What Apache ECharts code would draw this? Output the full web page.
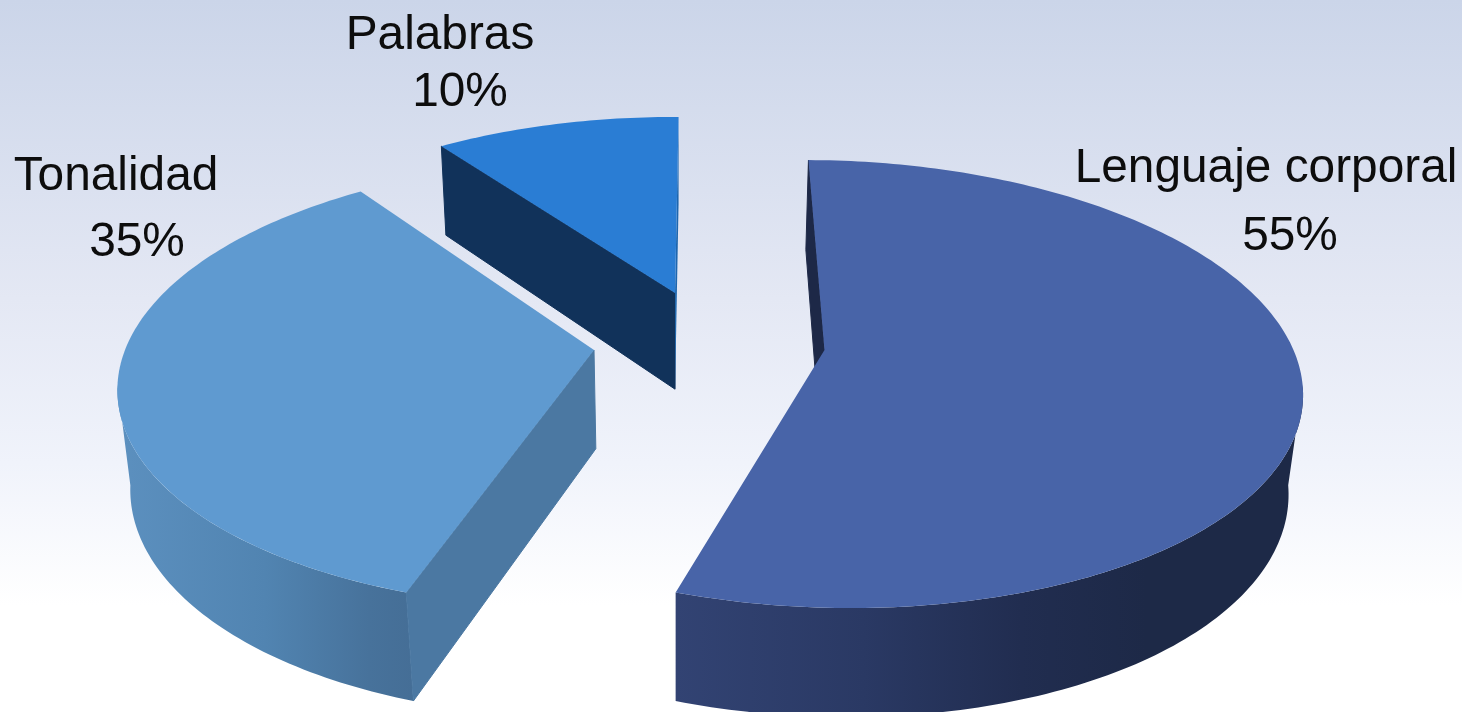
<!DOCTYPE html>
<html lang="es">
<head>
<meta charset="utf-8">
<title>Comunicación</title>
<style>
  html, body { margin: 0; padding: 0; width: 100%; height: 100%; overflow: hidden; background: #fff; }
  #chart { width: 1462px; height: 712px; }
</style>
<script src="https://cdn.jsdelivr.net/npm/echarts@6/dist/echarts.min.js"></script>
</head>
<body>
<div id="chart"></div>
<script>
// Chart data
const categories = ['Lenguaje corporal', 'Tonalidad', 'Palabras'];
const percentages = [55, 35, 10];

// Slice appearance
const topColors = ['#4864A8', '#5F9AD0', '#2A7DD4'];
const startEdgeColors = ['#1D2847', '#4B78A2', '#11325A'];
const endEdgeColors = [null, null, '#1E66AE'];
const wallStops = [
  [[0, '#324373'], [0.3, '#2A3964'], [0.55, '#212D50'], [0.75, '#1D2947'], [1, '#1D2947']],
  [[0, '#5C90BF'], [0.5, '#5184B1'], [0.85, '#47729B'], [1, '#456E96']],
  null
];

// How far each slice is pulled out of the pie, in plane units
const explodeX = [148.5, -82, -1];
const explodeY = [0, 0, -0.271];

// Label placement: [name x, name y, percent x, percent y]
const labelSpots = [
  [1266, 169, 1290, 237],
  [116, 177, 137, 243],
  [440, 36, 460, 93]
];

// Camera model for the tilted pie
const camera = { x0: 676, y0: 350, radiusX: 469, radiusY: 218.8, persp: 0.152, sink: 0.023, drop: 101 };
const startAngle = 0.5;
// Rim angles between the two silhouette points, where the outer wall faces the viewer
const wallWindow = [99, 261];
const labelFont = '47.8px "Liberation Sans", Arial, sans-serif';

// Project a plane point (u right, v toward the viewer) onto the screen.
// `lower` selects the bottom face of the pie instead of the top face.
function project(u, v, lower) {
  const d = 1 - camera.persp * v + (lower ? camera.sink : 0);
  return [
    camera.x0 + u / d,
    camera.y0 + (camera.radiusY * v + (lower ? camera.drop : 0)) / d
  ];
}

function rimPoint(index, degrees, lower) {
  const t = degrees * Math.PI / 180;
  return project(
    explodeX[index] + camera.radiusX * Math.sin(t),
    explodeY[index] - Math.cos(t),
    lower
  );
}

function arc(index, from, to, lower) {
  const pts = [];
  const steps = Math.max(2, Math.ceil(Math.abs(to - from)));
  for (let i = 0; i <= steps; i++) {
    pts.push(rimPoint(index, from + (to - from) * i / steps, lower));
  }
  return pts;
}

function renderSlice(params, api) {
  const i = params.dataIndex;
  const total = percentages.reduce((a, b) => a + b, 0);
  const before = percentages.slice(0, i).reduce((a, b) => a + b, 0);
  const a0 = startAngle + before / total * 360;
  const a1 = a0 + api.value(0) / total * 360;

  const tip = project(explodeX[i], explodeY[i], false);
  const tipLow = project(explodeX[i], explodeY[i], true);
  const children = [];

  // Outer wall, front-facing part only
  const w0 = Math.max(a0, wallWindow[0]);
  const w1 = Math.min(a1, wallWindow[1]);
  if (wallStops[i] && w1 > w0) {
    const stops = wallStops[i].map(s => ({ offset: s[0], color: s[1] }));
    children.push({
      type: 'polygon',
      shape: { points: arc(i, w0, w1, false).concat(arc(i, w1, w0, true)) },
      style: { fill: new echarts.graphic.LinearGradient(0, 0, 1, 0, stops) }
    });
  }

  // Cut faces running from the pie centre to the rim
  if (startEdgeColors[i]) {
    children.push({
      type: 'polygon',
      shape: { points: [tip, rimPoint(i, a0, false), rimPoint(i, a0, true), tipLow] },
      style: { fill: startEdgeColors[i], stroke: startEdgeColors[i], lineWidth: 1 }
    });
  }
  if (endEdgeColors[i]) {
    children.push({
      type: 'polygon',
      shape: { points: [tip, rimPoint(i, a1, false), rimPoint(i, a1, true), tipLow] },
      style: { fill: endEdgeColors[i] }
    });
  }

  // Top face
  children.push({
    type: 'polygon',
    shape: { points: [tip].concat(arc(i, a0, a1, false)) },
    style: { fill: topColors[i] }
  });

  // Name and percentage
  const spot = labelSpots[i];
  children.push({
    type: 'text',
    style: { text: categories[i], x: spot[0], y: spot[1], align: 'center', verticalAlign: 'middle', font: labelFont, fill: '#0D0D0D' }
  });
  children.push({
    type: 'text',
    style: { text: api.value(0) + '%', x: spot[2], y: spot[3], align: 'center', verticalAlign: 'middle', font: labelFont, fill: '#0D0D0D' }
  });

  return { type: 'group', children };
}

const chart = echarts.init(document.getElementById('chart'), null, { renderer: 'canvas', width: 1462, height: 712 });
chart.setOption({
  animation: false,
  backgroundColor: new echarts.graphic.LinearGradient(0, 0, 0, 1, [
    { offset: 0, color: '#CBD5E9' },
    { offset: 0.42, color: '#E4E8F4' },
    { offset: 0.65, color: '#F0F3FB' },
    { offset: 0.85, color: '#FFFFFF' },
    { offset: 1, color: '#FFFFFF' }
  ]),
  series: [{
    type: 'custom',
    coordinateSystem: 'none',
    silent: true,
    clip: false,
    data: percentages.map((v, i) => ({ name: categories[i], value: [v] })),
    renderItem: renderSlice
  }]
});
</script>
</body>
</html>
